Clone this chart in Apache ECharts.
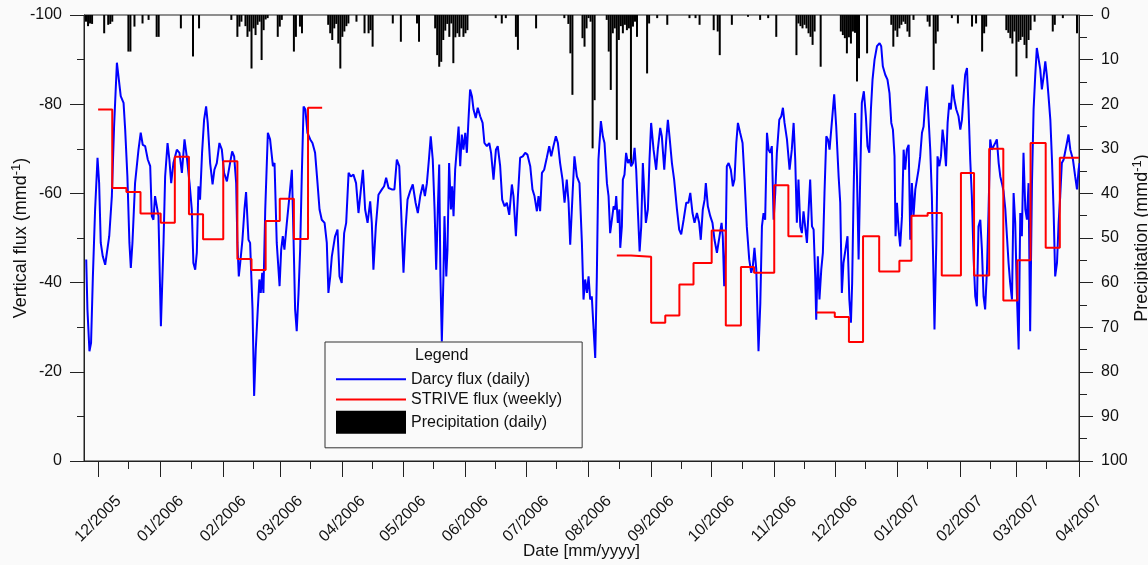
<!DOCTYPE html>
<html>
<head>
<meta charset="utf-8">
<title>Vertical flux</title>
<script src="https://cdn.jsdelivr.net/npm/echarts@6.0.0/dist/echarts.min.js"></script>
<style>
  html, body { margin: 0; padding: 0; background: #fafafa; }
  #chart { width: 1148px; height: 565px; }
</style>
</head>
<body>
<div id="chart"></div>
<script>
// days are counted from 2005-12-01
const monthLabels = ['12/2005', '01/2006', '02/2006', '03/2006', '04/2006', '05/2006', '06/2006', '07/2006',
  '08/2006', '09/2006', '10/2006', '11/2006', '12/2006', '01/2007', '02/2007', '03/2007', '04/2007']

// Darcy flux (daily), [day, mm/d]
const darcyFlux = [
  [-5.9, -45.2], [-5.3, -34], [-4.3, -24.6], [-3.5, -26.5], [-2.6, -41.4], [-1.5, -56.4], [-0.3, -68], [0.5, -62.3],
  [1.3, -48.9], [2.3, -45.9], [3.5, -44], [4.3, -44.4], [5.5, -50.4], [6.8, -59.4], [7.9, -75], [9.3, -89.3],
  [10.1, -89.3], [11.2, -81.8], [12.6, -80.3], [13.4, -74.3], [14.5, -63.8], [15.5, -48.9], [16.2, -43.3], [17.0, -48.9],
  [18.3, -62.3], [20.0, -69.8], [21.1, -73.6], [22.1, -70.9], [23.3, -70.6], [24.6, -67.6], [25.8, -66.1], [26.6, -54.9],
  [27.4, -54.1], [28.2, -59.4], [29.1, -59.7], [29.9, -54.9], [31.1, -30.2], [32.4, -48.9], [33.2, -63.8], [34.4, -71.3],
  [35.3, -67.6], [36.2, -62.3], [37.3, -66.8], [39.0, -69.8], [40.3, -69.1], [41.5, -64.6], [42.8, -72.1], [43.9, -68.3],
  [45.3, -62.3], [46.4, -56.4], [47.2, -44.4], [48.1, -42.9], [48.9, -46.7], [49.7, -61.6], [50.5, -58.6], [51.5, -69.1],
  [52.5, -76.5], [53.5, -79.5], [54.3, -75.8], [55.5, -66.8], [56.7, -62], [57.6, -65.3], [58.8, -66.8], [60.1, -71.3],
  [61.3, -69.8], [62.4, -64.6], [63.8, -62.7], [65.1, -66.1], [66.4, -69.4], [67.4, -68.3], [68.4, -62.3], [69.0, -48.9],
  [69.7, -41.4], [70.4, -44.4], [71.5, -49.6], [72.5, -56.4], [73.3, -60.3], [74.5, -49.6], [75.3, -48.9], [76.5, -34],
  [77.3, -14.6], [78.1, -25], [79.1, -34], [79.9, -40.7], [80.6, -37.7], [81.3, -42.2], [81.9, -37.7], [82.8, -56.4],
  [84.1, -73.6], [85.2, -72.1], [86.6, -66.1], [87.4, -66.8], [88.5, -48.9], [89.9, -39.2], [90.7, -47.4], [91.5, -50.4],
  [92.3, -47.4], [93.5, -53.4], [94.8, -59.4], [96.0, -65.3], [96.8, -50.4], [97.6, -34], [98.4, -29.1], [99.3, -37.7],
  [100.1, -47.4], [100.9, -63.8], [101.8, -79.5], [102.7, -78.8], [103.7, -73.6], [105.1, -72.1], [106.2, -71.3], [107.5, -69.1],
  [108.7, -62.3], [109.7, -56.4], [110.8, -54.1], [112.2, -53.4], [113.3, -48.9], [114.1, -37.7],
  [115.0, -41.4], [115.8, -45.9], [116.6, -46.3], [117.4, -50.4], [118.6, -51.9], [119.6, -41.4], [120.7, -39.9], [121.9, -51.1],
  [122.9, -53.4], [124.1, -64.6], [125.2, -63.8], [126.5, -64.2], [127.8, -62.3], [129.0, -55.6], [130.2, -60.9], [131.2, -65.3],
  [132.3, -56.4], [133.5, -53.4], [134.8, -58.2], [135.6, -53.4], [136.4, -42.9], [137.6, -52.6], [138.9, -59.7], [140.6, -60.9],
  [141.7, -61.6], [142.7, -63.5], [143.9, -61.2], [145.5, -60.9], [146.8, -60.9], [148.0, -67.6], [149.2, -66.1], [150.1, -56.4],
  [151.3, -42.2], [152.3, -51.9], [153.3, -58.6], [154.6, -60.5], [155.9, -62], [157.3, -57.9], [158.4, -55.6], [159.6, -59.4],
  [160.9, -62], [161.9, -59.4], [162.9, -62.3], [163.9, -67.6], [164.8, -72.8], [165.8, -67.6], [166.7, -56.4], [167.5, -42.9],
  [168.3, -56.4], [169.0, -66.5], [169.6, -41.4], [170.3, -26.8], [171.1, -41.4], [171.6, -54.9], [172.5, -41.4], [173.1, -47.4],
  [173.9, -66.8], [174.8, -56.4], [175.4, -61.6], [176.1, -54.9], [176.9, -65.3], [177.7, -69.8], [178.6, -75], [179.4, -66.1],
  [180.2, -73.2], [181.0, -69.8], [181.9, -73.6], [182.7, -69.1], [183.5, -76.5], [184.3, -83.3], [185.2, -81.8], [186.0, -78.8],
  [187.1, -76.9], [188.1, -79.2], [189.3, -77.3], [190.5, -75.8], [191.4, -71.3], [192.6, -70.6], [193.8, -71.3], [194.7, -69.1],
  [195.9, -63.1], [197.1, -69.8], [198.0, -70.6], [199.2, -66.1], [200.2, -58.6], [201.4, -57.1], [202.5, -57.9], [203.7, -55.2],
  [205.0, -62], [205.8, -59.4], [207.0, -50.4], [208.0, -59.4], [209.1, -68], [210.4, -68.3], [211.6, -69.1], [212.7, -68.7],
  [214.1, -66.1], [215.2, -60.9], [216.2, -59.4], [217.4, -56], [218.2, -59.4], [219.0, -56], [219.9, -64.6], [221.0, -65.3],
  [222.3, -68], [223.5, -70.6], [224.5, -68.3], [225.6, -70.6], [226.8, -72.8], [227.8, -71.3], [228.9, -66.8], [230.1, -63.1],
  [231.1, -57.9], [232.2, -63.1], [233.1, -57.9], [233.9, -48.5], [235.1, -60.1], [236.0, -68.3], [237.2, -63.8], [238.5, -62.3],
  [239.7, -48.9], [240.5, -36.2], [241.3, -40.7], [242.2, -37.7], [243.0, -41.4], [243.8, -36.2], [244.6, -36.9], [245.5, -29.5],
  [246.3, -23.1], [247.1, -41.4], [247.9, -67.6], [249.1, -76.2], [250.1, -72.8], [250.9, -71.3], [252.1, -62.3], [252.9, -59.4],
  [253.7, -51.1], [254.5, -51.1], [255.4, -57.1], [256.2, -56.4], [256.7, -59.4], [257.5, -53.4], [258.3, -56.4], [258.7, -47.8],
  [259.5, -52.6], [260.0, -63.1], [260.8, -64.2], [261.6, -69.1], [262.5, -66.8], [263.3, -67.6], [264.1, -66.1], [265.0, -66.8],
  [265.8, -70.2], [266.6, -65.3], [267.4, -56.4], [268.3, -47], [269.1, -52.6], [269.9, -66.8], [270.7, -59.4], [271.4, -53.4],
  [272.4, -56.4], [273.2, -67.6], [274.0, -75.8], [275.2, -69.8], [276.5, -65.3], [277.3, -69.8], [278.5, -74.7], [279.3, -72.8],
  [280.5, -65.3], [281.5, -72.1], [282.3, -76.5], [283.1, -72.8], [284.3, -66.8], [285.4, -63.1], [286.8, -56.4], [287.9, -51.9],
  [288.9, -50.8], [290.1, -54.1], [291.4, -57.9], [292.5, -57.9], [293.4, -60.1], [294.5, -55.6], [295.5, -53.4], [296.7, -55.6],
  [297.8, -53.4], [298.6, -49.6], [299.6, -56.4], [300.5, -58.6], [301.1, -62.3], [302.1, -57.1], [303.3, -54.9], [304.4, -53.4],
  [305.4, -49.6], [306.6, -46.7], [307.9, -50.4], [308.9, -53.4], [309.5, -50.4], [310.2, -39.2], [310.9, -47.4], [311.5, -66.1],
  [312.4, -66.8], [313.5, -65.3], [314.5, -61.6], [315.3, -63.1], [316.2, -71.3], [317.0, -75.8], [318.1, -73.6], [319.3, -71.3],
  [320.3, -63.1], [321.4, -52.6], [322.6, -45.2], [323.6, -42.2], [324.4, -43.7], [325.2, -47.8], [326.1, -42.9], [327.2, -24.6],
  [328.1, -35.4], [328.9, -52.6], [329.7, -55.6], [330.5, -54.1], [331.4, -73.6], [332.2, -69.8], [333.0, -69.1], [333.8, -70.6],
  [334.7, -54.1], [335.5, -60.1], [336.3, -69.1], [337.5, -76.5], [338.5, -77.3], [339.3, -79.2], [340.1, -75.8], [341.3, -72.1],
  [342.6, -65.3], [343.7, -69.8], [344.6, -75.8], [345.4, -67.6], [346.2, -53.4], [347.0, -63.1], [347.9, -52.6], [348.7, -51.1],
  [349.5, -56], [350.3, -55.6], [351.2, -48.9], [352.0, -48.9], [352.8, -63.1], [353.7, -52.6], [354.5, -51.9], [355.3, -41.4],
  [355.8, -31.7], [356.6, -45.9], [357.4, -36.2], [358.3, -42.9], [359.1, -46.7], [359.9, -60.1], [360.8, -72.8], [361.6, -72.1],
  [362.4, -69.8], [363.2, -69.8], [364.7, -82.2], [365.7, -75], [366.9, -63.8], [367.7, -57.9], [368.5, -37.7], [369.3, -44.4],
  [370.2, -44.4], [371.3, -50.4], [372.2, -36.2], [373.0, -31], [373.6, -39.9], [374.3, -59.4], [375.1, -78], [376.0, -63.8],
  [376.8, -45.2], [377.6, -63.8], [378.4, -80.3], [379.4, -82.9], [380.4, -77.3], [381.2, -70.6], [382.1, -69.1], [382.9, -78.8],
  [383.7, -85.5], [384.7, -90], [385.9, -93], [387.2, -93.7], [388.0, -93], [388.8, -88.5], [390.0, -86.6], [391.1, -85.5],
  [392.1, -82.5], [393.0, -75.8], [393.8, -74.3], [394.6, -68.3], [395.1, -50.4], [395.8, -57.9], [396.6, -51.9], [397.4, -48.1],
  [398.3, -54.9], [399.1, -69.8], [399.9, -65.3], [400.7, -69.8], [401.6, -70.9], [402.4, -49.6], [403.2, -62.3], [404.0, -54.9],
  [404.9, -60.9], [405.7, -63.1], [406.5, -65.3], [407.3, -68.3], [408.2, -73.6], [409.0, -75], [409.8, -80.3], [410.6, -84],
  [411.5, -76.5], [412.3, -69.8], [413.1, -59.4], [413.9, -41.4], [414.4, -29.5], [415.3, -48.9], [415.9, -68.3], [416.8, -66.1],
  [417.6, -68.3], [418.4, -74.3], [419.2, -71.3], [420.1, -66.1], [420.9, -75.8], [421.7, -80.3], [422.5, -78.8], [423.4, -84.4],
  [424.2, -81.1], [425.2, -78.8], [426.3, -77.3], [427.2, -74.3], [428.0, -76.5], [428.8, -81.8], [429.6, -86.6], [430.5, -88.1],
  [431.3, -78.8], [432.1, -67.6], [432.9, -59.4], [433.8, -45.2], [434.6, -36.9], [435.4, -34.7], [436.2, -52.6], [437.1, -54.1],
  [437.9, -47.4], [438.7, -36.9], [439.5, -34], [440.4, -42.9], [441.2, -56.4], [442.0, -72.1], [442.8, -69.8], [443.7, -70.6],
  [444.5, -71.3], [445.3, -72.1], [446.2, -66.8], [447.0, -63.8], [447.8, -62.3], [448.6, -60.5], [449.5, -56.4], [450.3, -50.4],
  [451.1, -44.4], [451.9, -39.9], [452.8, -36.2], [453.6, -60.1], [454.4, -53.4], [455.2, -37.7], [456.1, -25], [456.9, -55.6],
  [457.7, -50.4], [458.5, -69.1], [459.4, -56.4], [460.2, -54.1], [461.0, -62.3], [461.8, -29.1], [462.7, -62.3], [463.5, -78.8],
  [464.3, -86.3], [465.1, -92.6], [466.0, -93], [466.8, -87.8], [467.6, -83.3], [468.5, -86.3], [469.3, -89.6], [470.1, -86.3],
  [470.9, -81.8], [471.8, -76.5], [472.6, -67.6], [473.4, -56.4], [474.2, -41.4], [475.1, -44.4], [475.9, -53.4], [476.7, -59.4],
  [477.5, -66.8], [478.4, -67.6], [479.2, -67.2], [480.0, -71.3], [480.8, -73.2], [481.7, -69.8], [483.0, -67.6], [484.1, -63.8],
  [485.0, -60.9], [485.8, -65.3], [486.3, -66.8]
]

// STRIVE flux (weekly), [start day of period, mm/d]; null = no estimate
const striveFlux = [
  [0, -78.8], [7, -61.2], [14, -60.3], [21, -55.5], [31, -53.4], [38, -68.2], [45, -55.3], [52, -49.7],
  [62, -67.2], [69, -45.3], [76, -42.8], [83, -53.8], [90, -58.8], [97, -49.8], [104, -79.2], [111, -79.2], [111, null],
  [257, -46.1], [264, -45.8], [274, -31], [281, -32.6], [288, -39.6], [295, -44.4], [304, -51.7], [311, -30.4],
  [318.5, -43.5], [325, -42.2], [335, -61.8], [342, -50.4], [349, -50.4], [349, null],
  [356, -33.3], [365, -32.3], [372, -26.7], [379, -50.4], [387, -42.5], [397, -44.9], [403, -55], [411, -55.6],
  [418, -41.6], [427.5, -64.6], [434, -41.6], [441.5, -70], [448.5, -36], [455.5, -45], [462, -71.3], [469.5, -47.8],
  [476.5, -68], [486, -68]
]

// Precipitation (daily), [day, mm/d]
const precipitation = [
  [-6, 1.5], [-5, 2.5], [-4, 1.9], [-3, 2.0], [3, 4.1], [5, 2.2], [6, 2.0], [7, 1.5], [15, 8.2], [16, 8.2], [18, 2.6],
  [22, 1.9], [25, 1.1], [29, 4.9], [30, 4.9], [41, 3.0], [47, 9.3], [50, 3.0], [66, 1.1], [69, 4.9], [70, 2.6], [71, 1.5],
  [73, 2.5], [74, 4.9], [75, 3.7], [76, 12.0], [77, 3.0], [78, 4.5], [79, 2.2], [80, 1.5], [81, 10.1], [82, 3.4], [83, 1.0],
  [84, 0.7], [89, 4.9], [90, 2.6], [91, 1.1], [97, 8.2], [98, 4.9], [100, 2.6], [101, 4.1], [114, 2.2], [115, 4.1],
  [116, 5.6], [117, 3.0], [118, 2.0], [119, 6.4], [120, 12.0], [121, 4.9], [122, 3.7], [123, 2.5], [124, 1.9], [128, 1.5],
  [132, 4.1], [134, 4.1], [135, 3.4], [136, 7.1], [146, 1.9], [150, 6.0], [158, 1.9], [159, 6.0], [167, 3.0], [168, 9.0],
  [169, 11.6], [170, 10.5], [171, 5.6], [172, 3.5], [173, 2.0], [174, 4.9], [175, 1.9], [176, 10.8], [177, 5.0], [178, 4.1],
  [179, 4.9], [180, 3.0], [181, 4.9], [182, 4.1], [183, 3.4], [197, 0.7], [200, 1.9], [202, 0.7], [207, 4.9], [208, 7.8],
  [217, 3.0], [231, 0.7], [233, 2.0], [234, 8.6], [235, 17.9], [240, 5.2], [241, 7.1], [242, 3.0], [243, 0.7], [244, 1.5],
  [245, 29.9], [246, 19.1], [252, 1.1], [253, 8.2], [254, 16.8], [255, 4.1], [256, 3.0], [257, 28.0], [258, 5.6], [259, 2.5],
  [260, 4.1], [261, 2.2], [262, 3.4], [263, 3.0], [264, 33.3], [265, 2.6], [266, 1.5], [267, 4.9], [272, 13.1], [273, 1.9],
  [277, 0.7], [282, 2.2], [293, 0.7], [296, 0.7], [298, 2.2], [305, 3.4], [307, 3.7], [308, 9.0], [314, 2.2], [322, 0.4],
  [328, 1.1], [332, 0.7], [336, 4.9], [346, 9.0], [347, 1.9], [348, 2.5], [349, 3.0], [350, 2.2], [351, 3.0], [352, 4.1],
  [353, 4.9], [354, 6.7], [355, 3.7], [358, 11.6], [368, 3.7], [369, 4.5], [370, 5.2], [371, 8.6], [372, 5.0], [373, 6.4],
  [374, 3.7], [375, 4.0], [376, 14.9], [377, 9.7], [381, 8.6], [393, 2.2], [394, 7.1], [395, 3.5], [396, 4.9], [397, 3.0],
  [398, 2.2], [399, 1.5], [400, 2.0], [401, 3.7], [402, 4.9], [404, 1.1], [411, 1.5], [412, 2.6], [414, 12.3], [415, 6.4],
  [416, 3.7], [423, 0.7], [426, 1.9], [433, 2.6], [435, 1.9], [438, 8.2], [439, 4.1], [440, 2.6], [450, 3.4], [451, 4.0],
  [452, 5.2], [453, 6.4], [454, 3.7], [455, 13.8], [456, 6.0], [457, 5.6], [458, 4.9], [459, 6.7], [460, 9.7], [461, 5.6],
  [462, 3.4], [464, 1.5], [473, 3.7], [474, 2.2], [478, 0.7], [485, 4.1]
]

const DAY = 86400000
const origin = Date.UTC(2005, 11, 1)
function dayOf(label) {
  const [m, y] = label.split('/').map(Number)
  return (Date.UTC(y, m - 1, 1) - origin) / DAY
}
const monthDays = monthLabels.map(dayOf)
// minor ticks on the 16th of each month
const midDays = monthLabels.slice(0, -1).map(l => dayOf(l) + 15)

const textColor = '#111'
const lineColor = '#222'
const font = 'Arial, "Liberation Sans", sans-serif'
const nameRich = {
  t: { fontSize: 18, color: textColor, fontFamily: font },
  sup: { fontSize: 13, color: textColor, fontFamily: font, padding: [0, 0, 9, 0] }
}

const chart = echarts.init(document.getElementById('chart'))
chart.setOption({
  animation: false,
  backgroundColor: '#fafafa',
  textStyle: { fontFamily: font },
  grid: {
    left: 84, right: 69, top: 15, bottom: 104,
    outerBoundsMode: 'none',
    show: true, borderColor: lineColor, borderWidth: 1, backgroundColor: '#fafafa'
  },
  title: {
    text: 'Legend',
    left: 410, top: 343,
    textStyle: { fontSize: 16, fontWeight: 'normal', color: textColor, fontFamily: font }
  },
  legend: {
    orient: 'vertical',
    left: 325, top: 342,
    padding: [28, 20, 14, 10],
    itemWidth: 70, itemHeight: 23, itemGap: 2, itemTextGap: 16,
    borderColor: '#333', borderWidth: 1, backgroundColor: '#fafafa',
    textStyle: { fontSize: 16, color: textColor, fontFamily: font },
    data: [
      { name: 'Darcy flux (daily)', itemStyle: { opacity: 0 } },
      { name: 'STRIVE flux (weekly)', itemStyle: { opacity: 0 } },
      { name: 'Precipitation (daily)', icon: 'rect' }
    ]
  },
  xAxis: [{
    type: 'value',
    min: -7, max: 486,
    position: 'bottom',
    name: 'Date [mm/yyyy]',
    nameLocation: 'middle', nameGap: 82, nameMoveOverlap: false,
    nameTextStyle: { fontSize: 17, color: textColor },
    axisLine: { show: true, onZero: false, lineStyle: { color: lineColor } },
    axisTick: { customValues: monthDays, length: 16, lineStyle: { color: lineColor } },
    axisLabel: {
      customValues: monthDays,
      formatter: v => monthLabels[monthDays.indexOf(v)] || '',
      rotate: 45, align: 'center', verticalAlign: 'middle', margin: 58,
      fontSize: 16, color: textColor
    },
    splitLine: { show: false }
  }, {
    type: 'value',
    min: -7, max: 486,
    position: 'bottom',
    axisLine: { show: false, onZero: false },
    axisTick: { customValues: midDays, length: 8, lineStyle: { color: lineColor } },
    axisLabel: { show: false },
    splitLine: { show: false }
  }],
  yAxis: [{
    type: 'value',
    min: -100, max: 0, interval: 20,
    inverse: true,
    position: 'left',
    name: '{t|Vertical flux (mmd}{sup|-1}{t|)}',
    nameLocation: 'middle', nameGap: 52, nameRotate: 90, nameMoveOverlap: false,
    nameTextStyle: { rich: nameRich },
    axisLine: { show: true, onZero: false, lineStyle: { color: lineColor } },
    axisTick: { show: true, length: 14, lineStyle: { color: lineColor } },
    minorTick: { show: true, splitNumber: 2, length: 7, lineStyle: { color: lineColor } },
    axisLabel: { margin: 22, fontSize: 16, color: textColor },
    splitLine: { show: false }
  }, {
    type: 'value',
    min: 0, max: 100, interval: 10,
    inverse: true,
    position: 'right',
    name: '{t|Precipitation (mmd}{sup|-1}{t|)}',
    nameLocation: 'middle', nameGap: 52, nameRotate: 90, nameMoveOverlap: false,
    nameTextStyle: { rich: nameRich },
    axisLine: { show: true, onZero: false, lineStyle: { color: lineColor } },
    axisTick: { show: true, length: 14, lineStyle: { color: lineColor } },
    minorTick: { show: true, splitNumber: 2, length: 8, lineStyle: { color: lineColor } },
    axisLabel: { margin: 22, fontSize: 16, color: textColor },
    splitLine: { show: false }
  }],
  series: [{
    name: 'Precipitation (daily)',
    type: 'bar',
    xAxisIndex: 0, yAxisIndex: 1,
    barWidth: 2,
    itemStyle: { color: '#000' },
    data: precipitation
  }, {
    name: 'Darcy flux (daily)',
    type: 'line',
    xAxisIndex: 0, yAxisIndex: 0,
    symbol: 'none',
    color: '#0000ff',
    lineStyle: { color: '#0000ff', width: 2 },
    data: darcyFlux
  }, {
    name: 'STRIVE flux (weekly)',
    type: 'line',
    xAxisIndex: 0, yAxisIndex: 0,
    step: 'end',
    symbol: 'none',
    connectNulls: false,
    color: '#ff0000',
    lineStyle: { color: '#ff0000', width: 2 },
    data: striveFlux
  }]
})
</script>
</body>
</html>
